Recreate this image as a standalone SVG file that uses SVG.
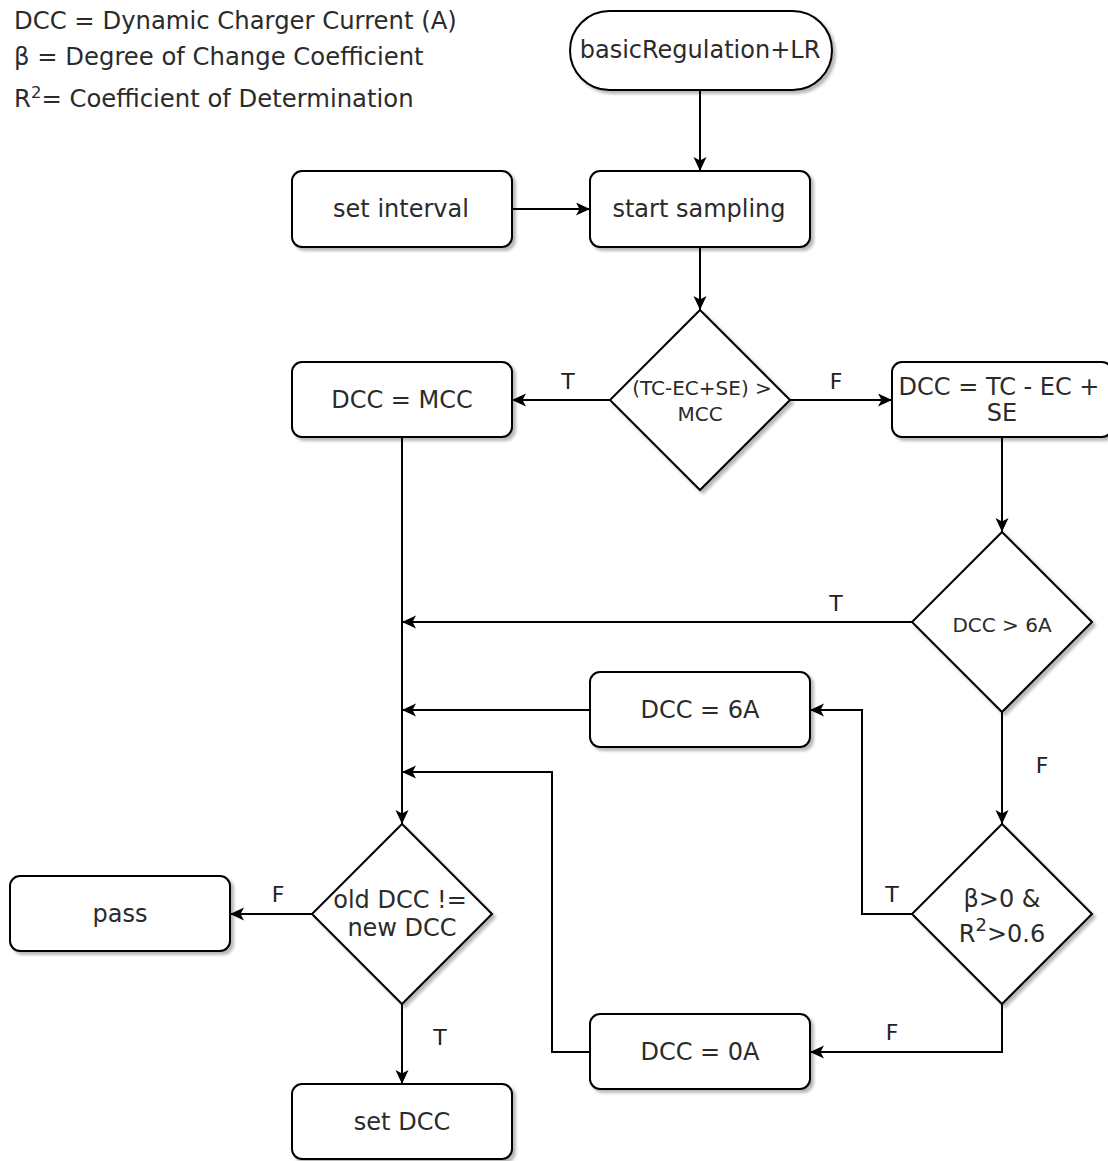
<svg xmlns="http://www.w3.org/2000/svg" width="1108" height="1161" viewBox="0 0 1108 1161">
<defs>
<filter id="sh" x="-10%" y="-10%" width="130%" height="130%">
<feDropShadow dx="3" dy="3" stdDeviation="1.5" flood-color="#000" flood-opacity="0.28"/>
</filter>
<marker id="arr" markerWidth="16" markerHeight="14" refX="14" refY="6.5" orient="auto" markerUnits="userSpaceOnUse">
<path d="M0,0 L14,6.5 L0,13 L3.5,6.5 Z" fill="#000"/>
</marker>
</defs>
<style>
.n{fill:#fff;stroke:#000;stroke-width:2;filter:url(#sh)}
.t{font-family:"DejaVu Sans","Verdana",sans-serif;font-size:24px;fill:#2b2b2b;text-anchor:middle}
.s{font-family:"DejaVu Sans","Verdana",sans-serif;font-size:20px;fill:#2b2b2b;text-anchor:middle}
.lg{font-family:"DejaVu Sans","Verdana",sans-serif;font-size:24.3px;fill:#2b2b2b}
.lb{font-family:"DejaVu Sans","Verdana",sans-serif;font-size:22px;fill:#222;text-anchor:middle}
.c{fill:none;stroke:#000;stroke-width:2;marker-end:url(#arr)}
</style>
<rect width="1108" height="1161" fill="#fff"/>

<g id="legend">
<text class="lg" x="14" y="29">DCC = Dynamic Charger Current (A)</text>
<text class="lg" x="14" y="65">β = Degree of Change Coefficient</text>
<text class="lg" x="14" y="107">R<tspan font-size="16.5" dy="-9">2</tspan><tspan dy="9">= Coefficient of Determination</tspan></text>
</g>

<g id="connectors">
<path class="c" d="M700,90 L700,171"/>
<path class="c" d="M512,209 L590,209"/>
<path class="c" d="M700,247 L700,310"/>
<path class="c" d="M610,400 L512,400"/>
<path class="c" d="M790,400 L892,400"/>
<path class="c" d="M1002,437 L1002,532"/>
<path class="c" d="M402,437 L402,824"/>
<path class="c" d="M912,622 L402,622"/>
<path class="c" d="M1002,712 L1002,824"/>
<path class="c" d="M912,914 L862,914 L862,710 L810,710"/>
<path class="c" d="M590,710 L402,710"/>
<path class="c" d="M1002,1004 L1002,1052 L810,1052"/>
<path class="c" d="M590,1052 L552,1052 L552,772 L402,772"/>
<path class="c" d="M312,914 L230,914"/>
<path class="c" d="M402,1004 L402,1084"/>
<text class="lb" x="568" y="389">T</text>
<text class="lb" x="836" y="389">F</text>
<text class="lb" x="836" y="611">T</text>
<text class="lb" x="1042" y="773">F</text>
<text class="lb" x="892" y="902">T</text>
<text class="lb" x="892" y="1040">F</text>
<text class="lb" x="278" y="902">F</text>
<text class="lb" x="440" y="1045">T</text>
</g>

<g id="start">
<rect class="n" x="570" y="11" width="262" height="79" rx="39.5"/>
<text class="t" x="700" y="58" font-size="23.5">basicRegulation+LR</text>
</g>
<g id="set-interval">
<rect class="n" x="292" y="171" width="220" height="76" rx="10"/>
<text class="t" x="401" y="217">set interval</text>
</g>
<g id="start-sampling">
<rect class="n" x="590" y="171" width="220" height="76" rx="10"/>
<text class="t" x="699" y="217">start sampling</text>
</g>
<g id="cond-mcc">
<path class="n" d="M700,310 L790,400 L700,490 L610,400 Z"/>
<text class="s" x="702" y="395" font-size="21">(TC-EC+SE) &gt;</text>
<text class="s" x="700" y="421" font-size="21">MCC</text>
</g>
<g id="dcc-mcc">
<rect class="n" x="292" y="362" width="220" height="75" rx="10"/>
<text class="t" x="402" y="408" font-size="23.2">DCC = MCC</text>
</g>
<g id="dcc-calc">
<rect class="n" x="892" y="362" width="220" height="75" rx="10"/>
<text class="t" x="999" y="395" font-size="22">DCC = TC - EC +</text>
<text class="t" x="1002" y="421" font-size="22">SE</text>
</g>
<g id="cond-6a">
<path class="n" d="M1002,532 L1092,622 L1002,712 L912,622 Z"/>
<text class="s" x="1002" y="632">DCC &gt; 6A</text>
</g>
<g id="dcc-6a">
<rect class="n" x="590" y="672" width="220" height="75" rx="10"/>
<text class="t" x="700" y="718">DCC = 6A</text>
</g>
<g id="cond-beta">
<path class="n" d="M1002,824 L1092,914 L1002,1004 L912,914 Z"/>
<text class="t" x="1002" y="907" font-size="27">β&gt;0 &amp;</text>
<text class="t" x="1002" y="942" font-size="27">R<tspan font-size="18" dy="-11">2</tspan><tspan dy="11">&gt;0.6</tspan></text>
</g>
<g id="dcc-0a">
<rect class="n" x="590" y="1014" width="220" height="75" rx="10"/>
<text class="t" x="700" y="1060">DCC = 0A</text>
</g>
<g id="cond-change">
<path class="n" d="M402,824 L492,914 L402,1004 L312,914 Z"/>
<text class="t" x="400" y="908" font-size="23.5">old DCC !=</text>
<text class="t" x="402" y="936" font-size="23.5">new DCC</text>
</g>
<g id="pass">
<rect class="n" x="10" y="876" width="220" height="75" rx="10"/>
<text class="t" x="120" y="922">pass</text>
</g>
<g id="set-dcc">
<rect class="n" x="292" y="1084" width="220" height="75" rx="10"/>
<text class="t" x="402" y="1130">set DCC</text>
</g>
</svg>
